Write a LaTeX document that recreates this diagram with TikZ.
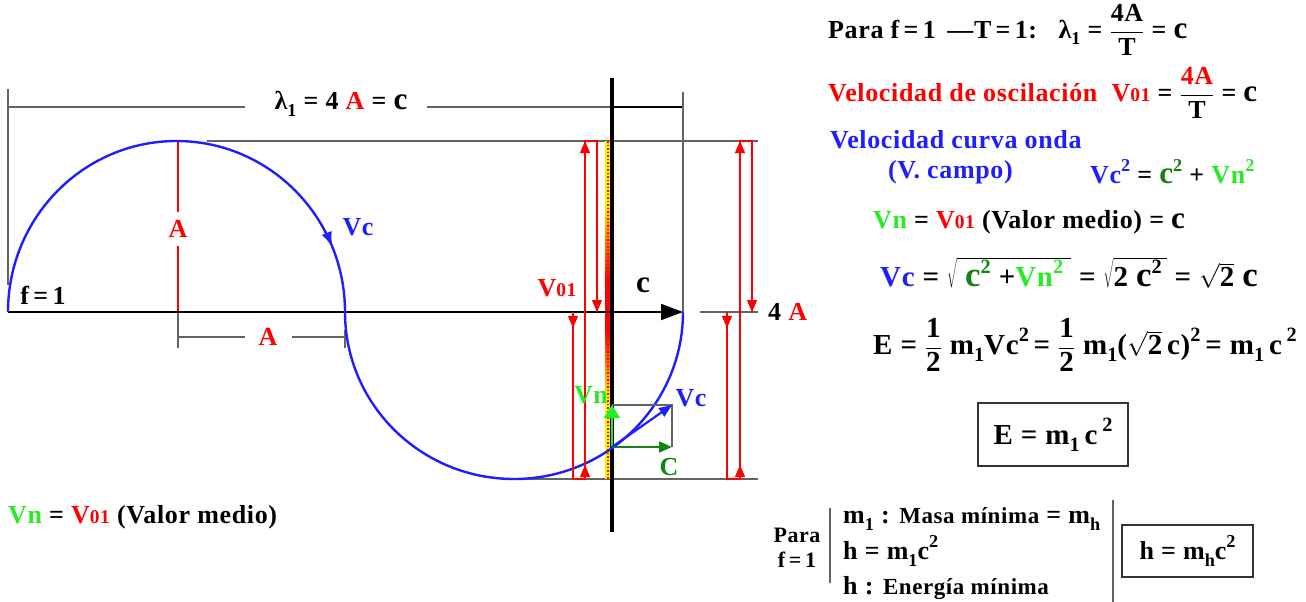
\documentclass[tikz,border=0pt]{standalone}
\usepackage{fontspec}
\setmainfont{Liberation Serif}[LetterSpace=2.5]
\usetikzlibrary{arrows.meta,decorations.markings}
\definecolor{cRed}{RGB}{255,0,0}
\definecolor{cBlue}{RGB}{30,30,255}
\definecolor{cLime}{RGB}{40,235,40}
\definecolor{cDGreen}{RGB}{20,130,20}
\definecolor{cGray}{RGB}{100,100,100}
\newcommand\cc{\scalebox{1.2}{c}}
\newcommand\Vo{V\scalebox{0.75}{01}}
\newcommand\sbx[1]{\raisebox{-0.25em}{\scalebox{0.7}{#1}}}
\newcommand\pwx[1]{\raisebox{0.45em}{\scalebox{0.7}{#1}}}
\newcommand\fr[2]{$\displaystyle\frac{\hbox{#1}}{\hbox{#2}}$}
\newcommand\rt[1]{$\sqrt{\hbox{#1}}$}
\tikzset{
  t/.style={inner sep=0pt, font=\bfseries\fontsize{26}{30}\selectfont},
  tb/.style={inner sep=0pt, font=\bfseries\fontsize{29}{33}\selectfont},
  ts/.style={inner sep=0pt, font=\bfseries\fontsize{22}{25}\selectfont},
  gl/.style={draw=cGray, line width=1.3pt},
  rl/.style={draw=cRed, line width=1.1pt},
  rarr/.style={draw=cRed, line width=1.1pt, -{Triangle[length=12pt,width=10pt]}},
  boxed/.style={draw=black!80, line width=1.5pt, inner sep=0pt}
}
\begin{document}
\begin{tikzpicture}[x=1pt,y=-1pt]
\useasboundingbox (0,0) rectangle (1306,602);
% frame lines
\draw[gl] (8,89) -- (8,285);
\draw[gl] (8,107) -- (245,107);
\draw[gl] (427,107) -- (612,107);
\draw[black, line width=1.2pt] (612,107) -- (683,107);
\draw[gl] (683,92) -- (683,312);
\draw[gl] (207,141) -- (758,141);
\draw[gl] (700,312) -- (758,312);
\draw[gl] (527,479) -- (758,479);
% A dimension
\draw[gl] (178,312) -- (178,348);
\draw[gl] (178,337) -- (245,337);
\draw[gl] (292,337) -- (345,337);
\draw[gl] (345,330) -- (345,348);
% red A line
\draw[rl] (178,141) -- (178,212);
\draw[rl] (178,246) -- (178,312);
% coloured bar
\fill[yellow] (605,141) rectangle (611,479);
\shade[top color=yellow, bottom color=red] (605,200) rectangle (611,280);
\fill[red] (605,280) rectangle (611,330);
\shade[top color=red, bottom color=yellow] (605,330) rectangle (611,400);
\draw[cRed, dotted, line width=1.5pt] (608,141) -- (608,479);
\draw[black, line width=4pt] (612,78) -- (612,532);
% axis
\draw[black, line width=2pt, -{Triangle[length=22pt,width=16pt]}] (8,312) -- (683,312);
% wave arcs
\draw[cBlue, line width=2.4pt, postaction={decorate},
  decoration={markings, mark=at position 0.875 with {\arrow{Latex[length=15pt,width=11pt]}}}]
  (8,312) arc[start angle=180, end angle=360, x radius=168.5, y radius=171];
\draw[cBlue, line width=2.4pt] (345,312) arc[start angle=180, end angle=0, x radius=169, y radius=167];
% red arrows, left group
\draw[rl] (573,312) -- (573,479) -- (585,479) -- (585,141) -- (597,141) -- (597,312);
\draw[rarr] (573,312) -- (573,328);
\draw[rarr] (585,479) -- (585,465);
\draw[rarr] (585,160) -- (585,141);
\draw[rarr] (597,295) -- (597,312);
% red arrows, right group
\draw[rl] (727,312) -- (727,479) -- (740,479) -- (740,141) -- (752,141) -- (752,312);
\draw[rarr] (727,312) -- (727,328);
\draw[rarr] (740,479) -- (740,465);
\draw[rarr] (740,160) -- (740,141);
\draw[rarr] (752,295) -- (752,312);
% vectors
\coordinate (O) at (612,447);
\coordinate (Vt) at (672,405);
\coordinate (Ct) at (672,447);
\coordinate (Nt) at (612,405);
\draw[gl, line width=1.2pt] (Nt) -- (Vt) -- (Ct);
\draw[cDGreen, line width=2.2pt, -{Triangle[length=13pt,width=11pt]}] (O) -- (Ct);
\draw[cLime, line width=2.2pt, -{Triangle[length=13pt,width=16pt]}] (O) -- (Nt);
\draw[cBlue, line width=2.2pt, -{Triangle[length=13pt,width=10pt]}] (O) -- (Vt);
% diagram labels
\node[t] (lam) at (341,104) {λ\sbx{1} = 4 {\color{cRed}A} = \cc};
\node[t, text=cRed] (aV) at (178,229) {A};
\node[t, text=cBlue] (vc1) at (358,227) {Vc};
\node[t] (f1) at (43,295) {f\,=\,1};
\node[t, text=cRed] (aH) at (268,337) {A};
\node[t, text=cRed] (v01) at (557,288) {\Vo};
\node[t] (cl) at (643,285) {\cc};
\node[t, anchor=west] (fourA) at (768,312) {4 {\color{cRed}A}};
\node[t, text=cLime] (vn) at (591,395) {Vn};
\node[t, text=cBlue] (vc2) at (691,398) {Vc};
\node[t, text=cDGreen] (cv) at (669,467) {C};
\node[t, anchor=west] (bl) at (8,517) {{\color{cLime}Vn} = {\color{cRed}\Vo} (Valor medio)};
% right formulas
\node[t, anchor=west] (r1) at (828,30) {Para f\,=\,1 \,—T\,=\,1:\ \ \ λ\sbx{1} = \fr{4A}{T} = \cc};
\node[t, anchor=west] (r2) at (828,93) {{\color{cRed}Velocidad de oscilación \ \Vo} = \fr{\color{cRed}4A}{T} = \cc};
\node[t, anchor=west, text=cBlue] (r3) at (830,140) {Velocidad curva onda};
\node[t, anchor=west, text=cBlue] (r4) at (888,172) {(V. campo)};
\node[t, anchor=west] (r4b) at (1090,172) {{\color{cBlue}Vc\pwx{2}} = {\color{cDGreen}\cc\pwx{2}} + {\color{cLime}Vn\pwx{2}}};
\node[t, anchor=west] (r5) at (873,222) {{\color{cLime}Vn} = {\color{cRed}\Vo} (Valor medio) = \cc};
\node[tb, anchor=west] (r6) at (880,273) {{\color{cBlue}Vc} = \rt{\ {\color{cDGreen}\cc\pwx{2}} +{\color{cLime}Vn\pwx{2}}\ } = \rt{2 \cc\pwx{2}\,} = \rt{2} \cc};
\node[tb, anchor=west] (r7) at (873,345) {E = \fr{1}{2} m\sbx{1}Vc\pwx{2}\,= \fr{1}{2} m\sbx{1}(\rt{2}\,c)\pwx{2}\,= m\sbx{1}\,c\,\pwx{2}};
\node[tb, boxed, minimum width=150pt, minimum height=63pt] (eb) at (1053,434.5) {E = m\sbx{1}\,c\,\pwx{2}};
\node[ts, align=center] (para) at (797,548) {Para\\f\,=\,1};
\draw[gl] (830,508) -- (830,583);
\node[t, anchor=west] (m1) at (843,519) {m\sbx{1} : {\fontsize{23}{27}\selectfont Masa mínima} = m\sbx{h}};
\node[t, anchor=west] (hm) at (843,551) {h = m\sbx{1}c\pwx{2}};
\node[t, anchor=west] (he) at (843,588) {h : {\fontsize{23}{27}\selectfont Energía mínima}};
\draw[gl] (1113,500) -- (1113,602);
\node[t, boxed, minimum width=131pt, minimum height=52pt] (hb) at (1187.5,551) {h = m\sbx{h}c\pwx{2}};
\end{tikzpicture}
\end{document}
